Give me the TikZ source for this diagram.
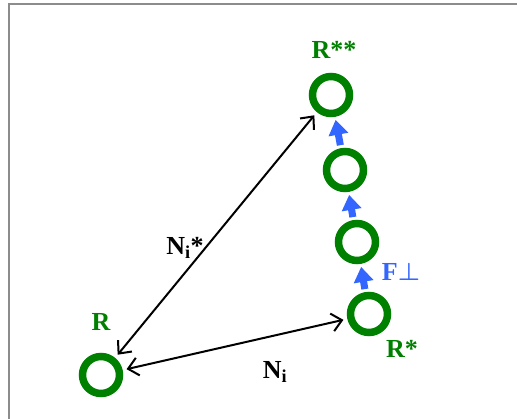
\documentclass[tikz,border=0pt]{standalone}
\usepackage{fontspec}
\setmainfont{Liberation Serif}
\usepackage{amsmath,amssymb}
\usepackage{bm}
\usetikzlibrary{arrows.meta,positioning,calc}
\definecolor{posgreen}{RGB}{0,128,0}
\definecolor{forceblue}{RGB}{51,102,255}
\tikzset{
  posnode/.style={circle, draw=posgreen, line width=7.5pt, minimum size=37pt, inner sep=0pt},
  poslabel/.style={font=\bfseries\fontsize{26}{26}\selectfont, text=posgreen, inner sep=0pt},
  dirlabel/.style={font=\bfseries\fontsize{26}{26}\selectfont, inner sep=0pt},
  forcearrow/.style={-{Triangle[length=15pt, width=19pt]}, line width=7pt, draw=forceblue,
                     shorten <=3pt, shorten >=3pt},
  dirarrow/.style={{Straight Barb[length=10pt, width=18pt]}-{Straight Barb[length=10pt, width=18pt]},
                   line width=2pt, shorten <=4pt, shorten >=4pt}
}
\begin{document}
\begin{tikzpicture}[x=1pt, y=-1pt]
\useasboundingbox (0,0) rectangle (517,419);
% frame
\draw[gray!90, line width=2pt] (9,419) -- (9,4) -- (517,4);
% positions
\node[posnode] (r) at (101,375) {};
\node[posnode] (rs) at (369,314) {};
\node[posnode] (q1) at (357,242) {};
\node[posnode] (q2) at (345,170) {};
\node[posnode] (rss) at (331,95) {};
% labels
\node[poslabel] (rl) at (101,322) {R};
\node[poslabel] (rsl) at (402,349) {R*};
\node[poslabel] (rssl) at (334,50) {R**};
\node[dirlabel, text=forceblue] (fl) at (401,272) {F$\bm{\perp}$};
\node[dirlabel] (nsl) at (185,248) {N\textsubscript{i}*};
\node[dirlabel] (nl) at (275,372) {N\textsubscript{i}};
% connectors
\draw[dirarrow] (r) -- (rss);
\draw[dirarrow] (r) -- (rs);
\draw[forcearrow] (rs) -- (q1);
\draw[forcearrow] (q1) -- (q2);
\draw[forcearrow] (q2) -- (rss);
\end{tikzpicture}
\end{document}
